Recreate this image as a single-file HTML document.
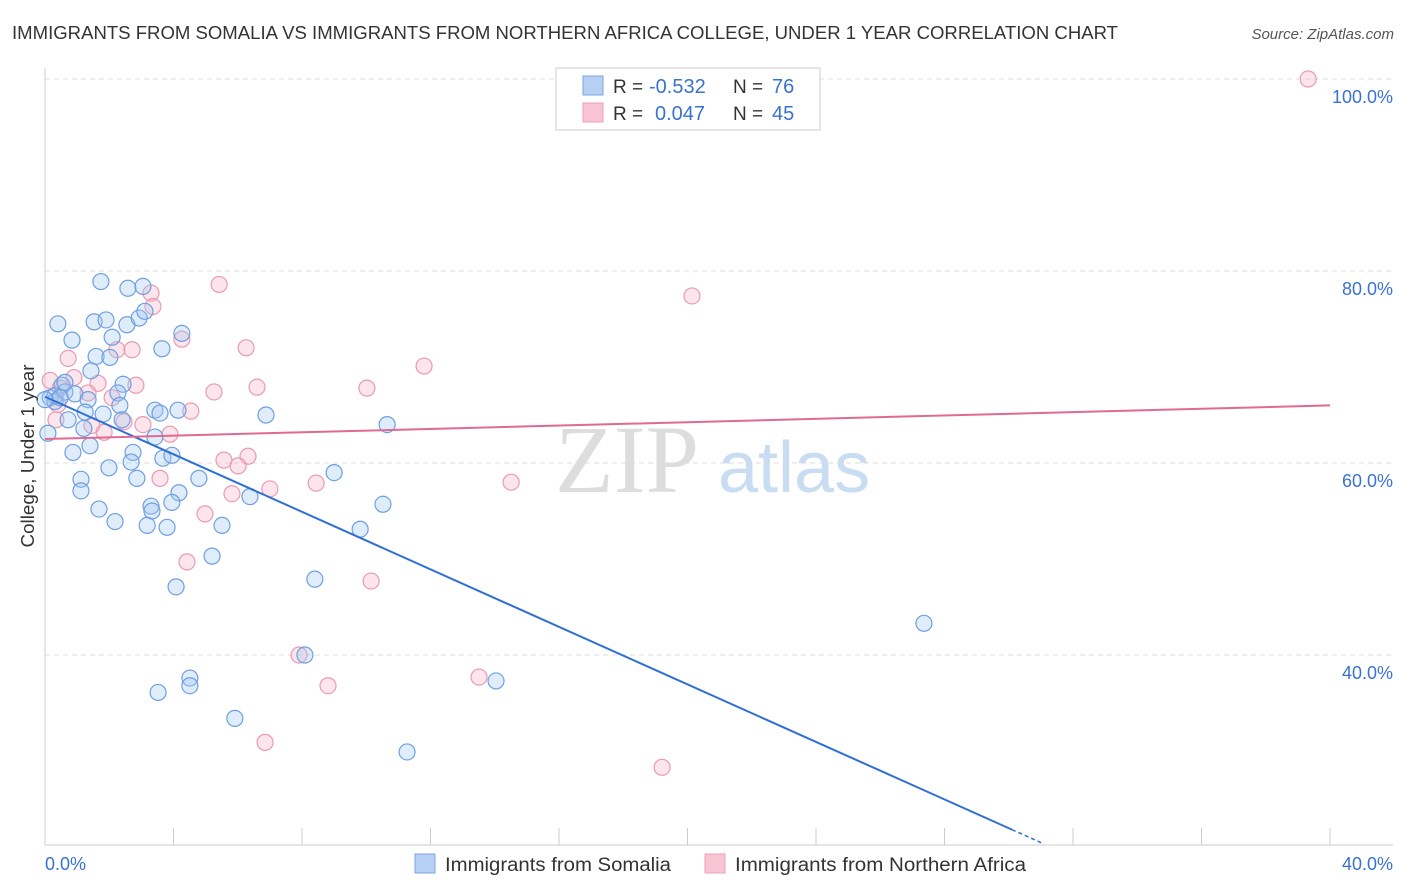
<!DOCTYPE html>
<html><head><meta charset="utf-8"><style>
body{margin:0;background:#fff;font-family:"Liberation Sans",sans-serif;}
svg{display:block}
</style></head><body>
<svg id="chart" width="1406" height="892" xmlns="http://www.w3.org/2000/svg" font-family="Liberation Sans, sans-serif">
<text x="12" y="39" font-size="18" fill="#333" textLength="1106" lengthAdjust="spacingAndGlyphs">IMMIGRANTS FROM SOMALIA VS IMMIGRANTS FROM NORTHERN AFRICA COLLEGE, UNDER 1 YEAR CORRELATION CHART</text>
<text x="1394" y="39" font-size="15" fill="#555" font-style="italic" text-anchor="end">Source: ZipAtlas.com</text>
<g>
<text x="555" y="492" font-size="96" fill="#ddd" font-family="Liberation Serif, serif">ZIP</text>
<text x="718" y="492" font-size="72" fill="#c8dcf2">atlas</text>
</g>
<g id="grid"></g>
<g id="marks"></g>
<text transform="translate(34,456) rotate(-90)" font-size="18" fill="#333" text-anchor="middle" textLength="183" lengthAdjust="spacingAndGlyphs">College, Under 1 year</text>
<g>
<rect x="556" y="68" width="264" height="62" fill="#fff" stroke="#ccc"/>
<rect x="583" y="76" width="20" height="19" fill="#b6d0f4" stroke="#7aa6e0"/>
<rect x="583" y="103" width="20" height="19" fill="#f8c4d4" stroke="#eca0b8"/>
<text x="613" y="93" font-size="19" fill="#333">R =</text>
<text x="649" y="93" font-size="20" fill="#3a72d0">-0.532</text>
<text x="733" y="93" font-size="19" fill="#333">N =</text>
<text x="772" y="93" font-size="20" fill="#3a72d0">76</text>
<text x="613" y="120" font-size="19" fill="#333">R =</text>
<text x="655" y="120" font-size="20" fill="#3a72d0">0.047</text>
<text x="733" y="120" font-size="19" fill="#333">N =</text>
<text x="772" y="120" font-size="20" fill="#3a72d0">45</text>
</g>
<g>
<rect x="415" y="854" width="20" height="19" fill="#b6d0f4" stroke="#7aa6e0"/>
<text x="445" y="871" font-size="19" fill="#333" textLength="226" lengthAdjust="spacingAndGlyphs">Immigrants from Somalia</text>
<rect x="705" y="854" width="20" height="19" fill="#f8c4d4" stroke="#eca0b8"/>
<text x="735" y="871" font-size="19" fill="#333" textLength="291" lengthAdjust="spacingAndGlyphs">Immigrants from Northern Africa</text>
</g>
</svg>
<script>
const xTicks=[0,40];
const yTicks=[40,60,80,100];
const blueX=[1.74,2.58,3.05,0.40,1.53,1.90,2.55,2.93,3.11,4.26,0.84,2.09,1.59,2.02,3.64,1.43,0.53,2.43,0.16,0.31,0.62,0.93,1.34,2.27,2.33,3.42,3.58,4.14,1.25,1.81,0.72,2.40,6.88,1.21,3.42,10.65,0.87,1.40,2.74,3.67,3.95,0.09,1.99,2.68,1.12,2.86,4.79,9.00,1.12,4.17,1.68,3.30,3.95,3.33,6.38,2.18,3.18,3.80,5.51,10.52,9.81,5.20,4.08,8.40,27.36,8.09,4.51,4.51,3.52,14.04,5.91,11.27,0.31,0.47,0.0,0.62];
const blueY=[78.9,78.2,78.4,74.5,74.7,74.9,74.4,75.1,75.8,73.5,72.8,73.1,71.1,71.0,71.9,69.6,68.1,68.2,66.8,67.0,67.4,67.2,66.6,67.3,66.0,65.5,65.2,65.5,65.3,65.1,64.5,64.5,65.0,63.6,62.7,64.0,61.1,61.8,61.1,60.5,60.8,63.1,59.5,60.1,58.3,58.4,58.4,59.0,57.1,56.9,55.2,55.5,55.9,55.0,56.5,53.9,53.5,53.3,53.5,55.7,53.1,50.3,47.1,47.9,43.3,40.0,37.6,36.8,36.1,37.3,33.4,29.9,66.4,66.8,66.6,68.4];
const pinkX=[39.32,5.42,3.30,3.36,20.14,4.26,2.24,2.71,6.26,0.72,11.80,0.90,1.65,2.83,5.26,6.60,10.02,0.47,1.34,0.16,2.09,4.54,0.40,2.46,1.46,1.84,3.05,3.89,6.32,5.57,6.01,3.58,7.00,8.44,14.51,5.82,4.98,4.42,10.15,7.91,8.81,13.51,6.85,19.21,0.34];
const pinkY=[100,78.6,77.7,76.3,77.4,72.9,71.8,71.8,72.0,70.9,70.1,68.9,68.3,68.1,67.4,67.9,67.8,67.8,67.3,68.6,66.8,65.4,66.1,64.3,63.9,63.2,64.0,63.0,60.7,60.3,59.7,58.4,57.3,57.9,58.0,56.8,54.7,49.7,47.7,40.0,36.8,37.7,30.9,28.3,64.5];
const blueTrend=[66.9,-1.498];
const pinkTrend=[62.5,0.0875];
const X=v=>45+v*32.125, Y=v=>79+(100-v)*9.6;
const NS='http://www.w3.org/2000/svg';
function mk(t,a,p){const e=document.createElementNS(NS,t);for(const k in a)e.setAttribute(k,a[k]);p.appendChild(e);return e;}
const grid=document.getElementById('grid'),marks=document.getElementById('marks');
yTicks.forEach(v=>{
const l=mk('line',{x1:45,x2:1393,y1:Y(v),y2:Y(v),stroke:'#ddd','stroke-dasharray':'5,4'},grid);


const t=mk('text',{x:1393,y:Y(v)+24,'font-size':18,fill:'#3a72d0','text-anchor':'end'},grid);
t.textContent=v.toFixed(1)+'%';


});
mk('line',{x1:45,x2:45,y1:68,y2:845,stroke:'#ccc'},grid);
mk('line',{x1:45,x2:1393,y1:845,y2:845,stroke:'#ccc'},grid);
for(let i=1;i<=10;i++){const x=X(i*4);mk('line',{x1:x,x2:x,y1:828,y2:845,stroke:'#ccc'},grid);}
xTicks.forEach((v,i)=>{
const t=mk('text',{x:i?1393:45,y:870,'font-size':18,fill:'#3a72d0','text-anchor':i?'end':'start'},grid);
t.textContent=v.toFixed(1)+'%';


});
function pts(xs,ys,fill,stroke,name){xs.forEach((x,i)=>{
const c=mk('circle',{cx:X(x),cy:Y(ys[i]),r:8,fill:fill,stroke:stroke,'stroke-width':1.2},marks);


});}
pts(pinkX,pinkY,'rgba(248,180,200,0.35)','#e99ab4','northern-africa-point');
pts(blueX,blueY,'rgba(164,200,240,0.35)','#6f9fe0','somalia-point');
const xe=30.1,xd=31.1;
let l=mk('line',{x1:X(0),y1:Y(blueTrend[0]),x2:X(xe),y2:Y(blueTrend[0]+blueTrend[1]*xe),stroke:'#2f6fd6','stroke-width':2},marks);


mk('line',{x1:X(xe),y1:Y(blueTrend[0]+blueTrend[1]*xe),x2:X(xd),y2:Y(blueTrend[0]+blueTrend[1]*xd),stroke:'#2f6fd6','stroke-width':1.5,'stroke-dasharray':'4,3'},marks);
l=mk('line',{x1:X(0),y1:Y(pinkTrend[0]),x2:X(40),y2:Y(pinkTrend[0]+pinkTrend[1]*40),stroke:'#e06a93','stroke-width':2},marks);


</script>
</body></html>
